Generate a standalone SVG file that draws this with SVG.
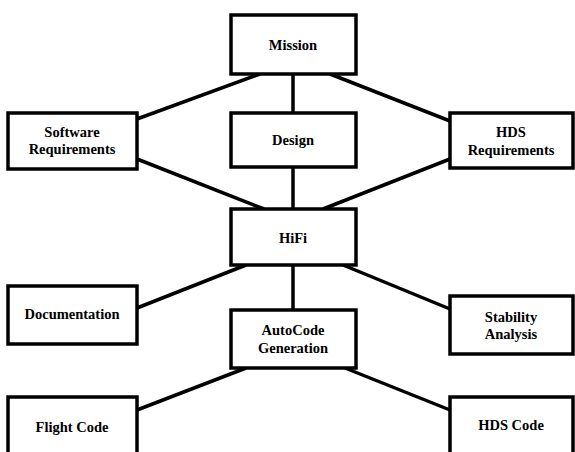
<svg xmlns="http://www.w3.org/2000/svg" width="575" height="452" viewBox="0 0 575 452">
  <style>
    .box { fill: #ffffff; stroke: #000000; stroke-width: 3.5; }
    .link { stroke: #000000; stroke-width: 3.5; fill: none; stroke-linecap: butt; }
    .label { font-family: "Liberation Serif", "Times New Roman", serif; font-weight: bold; font-size: 14.5px; fill: #000000; text-anchor: middle; }
  </style>
  <rect width="575" height="452" fill="#ffffff"/>

  <!-- connectors -->
  <g id="connectors">
    <line class="link" x1="260" y1="74" x2="137" y2="119"/>
    <line class="link" x1="293" y1="74" x2="293" y2="112"/>
    <line class="link" x1="330" y1="74" x2="450" y2="121"/>
    <line class="link" x1="137" y1="159" x2="264" y2="209"/>
    <line class="link" x1="293" y1="167" x2="293" y2="209"/>
    <line class="link" x1="450" y1="159" x2="323" y2="209"/>
    <line class="link" x1="246" y1="265" x2="137" y2="308"/>
    <line class="link" x1="293" y1="265" x2="293" y2="310"/>
    <line class="link" x1="343" y1="265" x2="450" y2="309"/>
    <line class="link" x1="246" y1="368" x2="137" y2="410"/>
    <line class="link" x1="345" y1="368" x2="450" y2="410"/>
  </g>

  <g id="mission">
    <rect class="box" x="231" y="15" width="125" height="59"/>
    <text class="label" x="293" y="50">Mission</text>
  </g>
  <g id="software-requirements">
    <rect class="box" x="8" y="113" width="129" height="56"/>
    <text class="label" x="72" y="137">Software</text>
    <text class="label" x="72" y="154">Requirements</text>
  </g>
  <g id="design">
    <rect class="box" x="231" y="113" width="125" height="54"/>
    <text class="label" x="293" y="145">Design</text>
  </g>
  <g id="hds-requirements">
    <rect class="box" x="450" y="113" width="123" height="55"/>
    <text class="label" x="511" y="137">HDS</text>
    <text class="label" x="511" y="155">Requirements</text>
  </g>
  <g id="hifi">
    <rect class="box" x="231" y="209" width="125" height="56"/>
    <text class="label" x="293" y="243">HiFi</text>
  </g>
  <g id="documentation">
    <rect class="box" x="8" y="286" width="129" height="58"/>
    <text class="label" x="72" y="319">Documentation</text>
  </g>
  <g id="autocode-generation">
    <rect class="box" x="231" y="310" width="125" height="58"/>
    <text class="label" x="293" y="335">AutoCode</text>
    <text class="label" x="293" y="353">Generation</text>
  </g>
  <g id="stability-analysis">
    <rect class="box" x="450" y="296" width="123" height="58"/>
    <text class="label" x="511" y="322">Stability</text>
    <text class="label" x="511" y="339">Analysis</text>
  </g>
  <g id="flight-code">
    <rect class="box" x="8" y="397" width="129" height="62"/>
    <text class="label" x="72" y="432">Flight Code</text>
  </g>
  <g id="hds-code">
    <rect class="box" x="450" y="397" width="123" height="62"/>
    <text class="label" x="511" y="430">HDS Code</text>
  </g>
</svg>
